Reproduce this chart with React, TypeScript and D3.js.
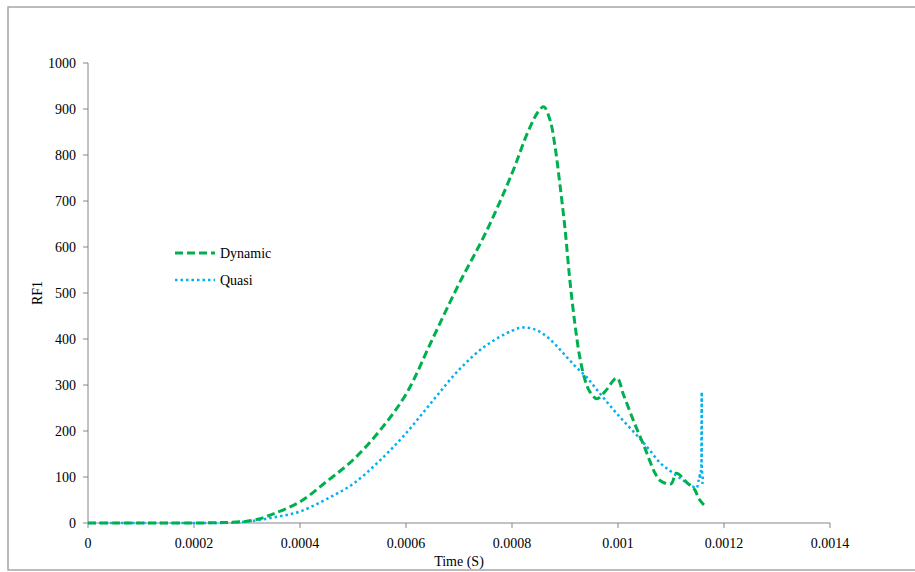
import React from "react";
import * as d3 from "d3";

const dynT = [0, 0.00005, 0.0001, 0.00015, 0.0002, 0.00025, 0.00028, 0.0003, 0.00032, 0.00035, 0.0004, 0.00045, 0.0005, 0.00055, 0.0006, 0.00065, 0.0007, 0.00075, 0.0008, 0.00083, 0.00085, 0.00086, 0.000872, 0.000881, 0.00089, 0.0009, 0.000909, 0.000919, 0.000928, 0.000938, 0.000947, 0.00096, 0.000975, 0.000998, 0.00101, 0.00103, 0.00105, 0.00106, 0.00107, 0.00108, 0.0011, 0.00111, 0.00113, 0.001145, 0.001152, 0.00116, 0.001165];
const dynV = [0, 0, 0, 0, 0, 1, 2, 4, 8, 20, 46, 90, 137, 200, 280, 400, 520, 630, 760, 850, 895, 905, 875, 820, 740, 640, 530, 430, 360, 310, 285, 270, 285, 315, 280, 220, 165, 135, 108, 92, 85, 108, 88, 72, 54, 42, 37];

const quasiT = [0, 0.00005, 0.0001, 0.00015, 0.0002, 0.00025, 0.0003, 0.00035, 0.0004, 0.00045, 0.0005, 0.00055, 0.0006, 0.00065, 0.0007, 0.00075, 0.0008, 0.00082, 0.00084, 0.00086, 0.00088, 0.0009, 0.00092, 0.00094, 0.00096, 0.00098, 0.001, 0.00102, 0.00104, 0.00106, 0.00108, 0.0011, 0.00112, 0.00114, 0.001148, 0.001152, 0.001155, 0.001154, 0.001157, 0.001158, 0.001158, 0.00116, 0.001159];
const quasiV = [0, 0, 0, 0, 0, 0, 3, 12, 25, 52, 85, 135, 195, 265, 333, 385, 418, 425, 422, 410, 390, 365, 340, 318, 290, 262, 235, 210, 185, 158, 130, 112, 95, 80, 76, 92, 108, 95, 118, 285, 120, 95, 85];

const xTicks = [0, 0.0002, 0.0004, 0.0006, 0.0008, 0.001, 0.0012, 0.0014];
const xTickLabels = ["0", "0.0002", "0.0004", "0.0006", "0.0008", "0.001", "0.0012", "0.0014"];
const yTicks = [0, 100, 200, 300, 400, 500, 600, 700, 800, 900, 1000];

const seriesNames = ["Dynamic", "Quasi"];
const xTitle = "Time (S)";
const yTitle = "RF1";

export default function App() {
  const W = 915, H = 572;
  const x = d3.scaleLinear().domain([0, 0.0014]).range([88, 830]);
  const y = d3.scaleLinear().domain([0, 1000]).range([523, 63]);
  const line = d3.line<[number, number]>()
    .x(d => x(d[0]))
    .y(d => y(d[1]))
    .curve(d3.curveCatmullRom.alpha(0.5));
  const dynPts: [number, number][] = dynT.map((t, i) => [t, dynV[i]]);
  const quasiPts: [number, number][] = quasiT.map((t, i) => [t, quasiV[i]]);
  const font = "'Liberation Serif', 'Times New Roman', serif";
  const green = "#00B050";
  const blue = "#00B0F0";
  const axisCol = "#868686";

  return (
    <svg width={W} height={H} style={{ position: "absolute", left: 0, top: 0 }}>
      <rect x={0} y={0} width={W} height={H} fill="#fff" />
      <rect x={8} y={7} width={920} height={563} fill="none" stroke="#a6a6a6" strokeWidth={1.5} />
      {/* y axis */}
      <line x1={88} x2={88} y1={y(0)} y2={y(1000)} stroke={axisCol} />
      {yTicks.map(v => (
        <g key={"y" + v}>
          <line x1={83} x2={88} y1={y(v)} y2={y(v)} stroke={axisCol} />
          <text x={76} y={y(v) + 5} textAnchor="end" fontFamily={font} fontSize={14} fill="#000">{v}</text>
        </g>
      ))}
      {/* x axis */}
      <line x1={x(0)} x2={x(0.0014)} y1={y(0)} y2={y(0)} stroke={axisCol} />
      {xTicks.map((v, i) => (
        <g key={"x" + i}>
          <line x1={x(v)} x2={x(v)} y1={y(0)} y2={y(0) + 5} stroke={axisCol} />
          <text x={x(v)} y={y(0) + 25} textAnchor="middle" fontFamily={font} fontSize={14} fill="#000">{xTickLabels[i]}</text>
        </g>
      ))}
      <text x={459} y={566} textAnchor="middle" fontFamily={font} fontSize={14} fill="#000">{xTitle}</text>
      <text transform={`translate(42,293) rotate(-90)`} textAnchor="middle" fontFamily={font} fontSize={14} fill="#000">{yTitle}</text>
      {/* series */}
      <path d={line(quasiPts) || ""} fill="none" stroke={blue} strokeWidth={2.5} strokeDasharray="2.5,3" />
      <path d={line(dynPts) || ""} fill="none" stroke={green} strokeWidth={3} strokeDasharray="8,4" />
      {/* legend */}
      <line x1={175} x2={215} y1={253} y2={253} stroke={green} strokeWidth={3} strokeDasharray="8,4" />
      <text x={220} y={258} fontFamily={font} fontSize={14} fill="#000">{seriesNames[0]}</text>
      <line x1={175} x2={215} y1={280} y2={280} stroke={blue} strokeWidth={2.5} strokeDasharray="2.5,3" />
      <text x={220} y={285} fontFamily={font} fontSize={14} fill="#000">{seriesNames[1]}</text>
    </svg>
  );
}
